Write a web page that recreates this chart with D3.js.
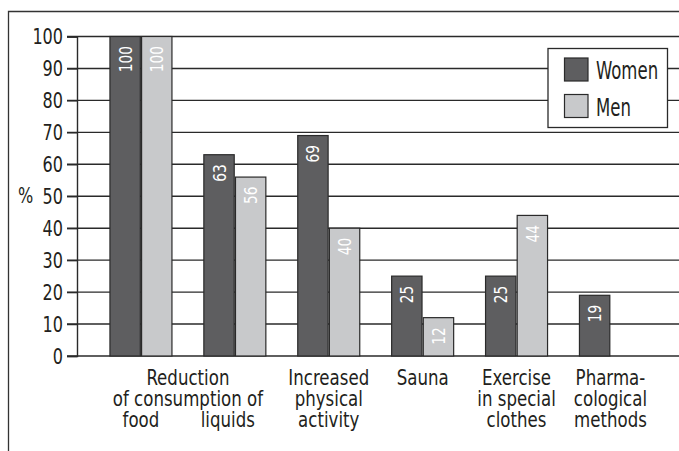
<!DOCTYPE html>
<html><head><meta charset="utf-8">
<script src="https://cdn.jsdelivr.net/npm/d3@7"></script>
<style>
body{margin:0;background:#fff;}
text{font-family:"DejaVu Sans Condensed","Liberation Sans Narrow",sans-serif;font-stretch:condensed;}
</style></head>
<body>
<svg id="chart" width="679" height="451"></svg>
<script>
const categories = ["Reduction of consumption of food","Reduction of consumption of liquids","Increased physical activity","Sauna","Exercise in special clothes","Pharmacological methods"];
const seriesNames = ["Women","Men"];
const women = [100, 63, 69, 25, 25, 19];
const men = [100, 56, 40, 12, 44, null];
const yTicks = [0,10,20,30,40,50,60,70,80,90,100];
const tickLines = [
  ["food"],
  ["liquids"],
  ["Increased","physical","activity"],
  ["Sauna"],
  ["Exercise","in special","clothes"],
  ["Pharma-","cological","methods"]
];
const sharedHeader = ["Reduction","of consumption of"];

const colors = {Women:"#5e5e60", Men:"#c8c9cb"};
const ink = "#231f20";
const svg = d3.select("#chart");
const W = 679, H = 451;

function txt(parent, x, yy, s, size, sx, anchor){
  return parent.append("text")
    .attr("transform", `translate(${x},${yy}) scale(${sx},1)`)
    .attr("text-anchor", anchor || "middle")
    .attr("font-size", size).attr("fill", ink).text(s);
}

// frame
svg.append("path").attr("d", `M8.5,${H} L8.5,11.5 L${W},11.5`).attr("fill","none").attr("stroke","#333").attr("stroke-width",1.3);

const x0 = d3.scaleBand().domain(categories).range([94, 94 + 6*93.9]).padding(0);
const x1 = d3.scaleBand().domain(seriesNames).range([x0.bandwidth()/2 - 31, x0.bandwidth()/2 + 31]).paddingInner(0.04);
const y = d3.scaleLinear().domain([0,100]).range([356, 36.5]);
const axisX = 77;

// gridlines
svg.append("g").selectAll("line").data(yTicks).join("line")
  .attr("x1", 67).attr("x2", W).attr("y1", d=>y(d)).attr("y2", d=>y(d))
  .attr("stroke","#2a2a2a").attr("stroke-width",1.4);

// y axis
const yAxis = d3.axisLeft(y).tickValues(yTicks).tickSize(10).tickPadding(4);
const gy = svg.append("g").attr("transform",`translate(${axisX},0)`).call(yAxis);
gy.select(".domain").attr("stroke","#2a2a2a").attr("stroke-width",1.4);
gy.selectAll(".tick line").attr("stroke","#2a2a2a").attr("stroke-width",1.4);
gy.selectAll(".tick text").attr("font-size",20.5).attr("fill",ink).attr("font-family",null)
  .attr("x",0).attr("dy","0.36em").attr("transform","translate(-14,0) scale(0.87,1)");
txt(svg, 18, y(50)+7, "%", 20.5, 0.87, "start");

// bars
const data = categories.map((c,i)=>({cat:c, vals:[{s:"Women",v:women[i]},{s:"Men",v:men[i]}]}));
const groups = svg.append("g").selectAll("g").data(data).join("g")
  .attr("transform", d=>`translate(${x0(d.cat)},0)`);
const bars = groups.selectAll("g").data(d=>d.vals.filter(e=>e.v!=null)).join("g");
bars.append("rect")
  .attr("x", d=>x1(d.s)).attr("width", x1.bandwidth())
  .attr("y", d=>y(d.v)).attr("height", d=>y(0)-y(d.v))
  .attr("fill", d=>colors[d.s]).attr("stroke","#2a2a2a").attr("stroke-width",1.2);
bars.append("text")
  .attr("transform", d=>`translate(${x1(d.s)+x1.bandwidth()/2},${y(d.v)+9.5}) rotate(-90) scale(0.85,1)`)
  .attr("text-anchor","end").attr("dy","0.36em")
  .attr("font-size",18).attr("fill","#fff").text(d=>d.v);

// category labels
const lh = 21;
const labY = 385;
const labSize = 21.5, labSx = 0.86;
tickLines.forEach((lines,i)=>{
  const cx = x0(categories[i]) + x0.bandwidth()/2;
  const off = i<2 ? 2 : 0;
  lines.forEach((ln,j)=>{
    txt(svg, i===1 ? cx-7 : cx, labY + (j+off)*lh, ln, labSize, labSx);
  });
});
const mid = (x0(categories[0]) + x0(categories[1]) + x0.bandwidth())/2;
sharedHeader.forEach((ln,j)=>{
  txt(svg, mid, labY + j*lh, ln, labSize, labSx);
});

// legend
const lg = svg.append("g");
lg.append("rect").attr("x",548).attr("y",48.5).attr("width",119.5).attr("height",79)
  .attr("fill","#fff").attr("stroke","#2a2a2a").attr("stroke-width",1.3);
seriesNames.forEach((s,i)=>{
  const yy = 58 + i*36.5;
  lg.append("rect").attr("x",564.5).attr("y",yy).attr("width",23.5).attr("height",23)
    .attr("fill",colors[s]).attr("stroke","#2a2a2a").attr("stroke-width",1.2);
  txt(lg, 596, yy+21, s, 24.5, 0.75, "start");
});
</script>
</body></html>
